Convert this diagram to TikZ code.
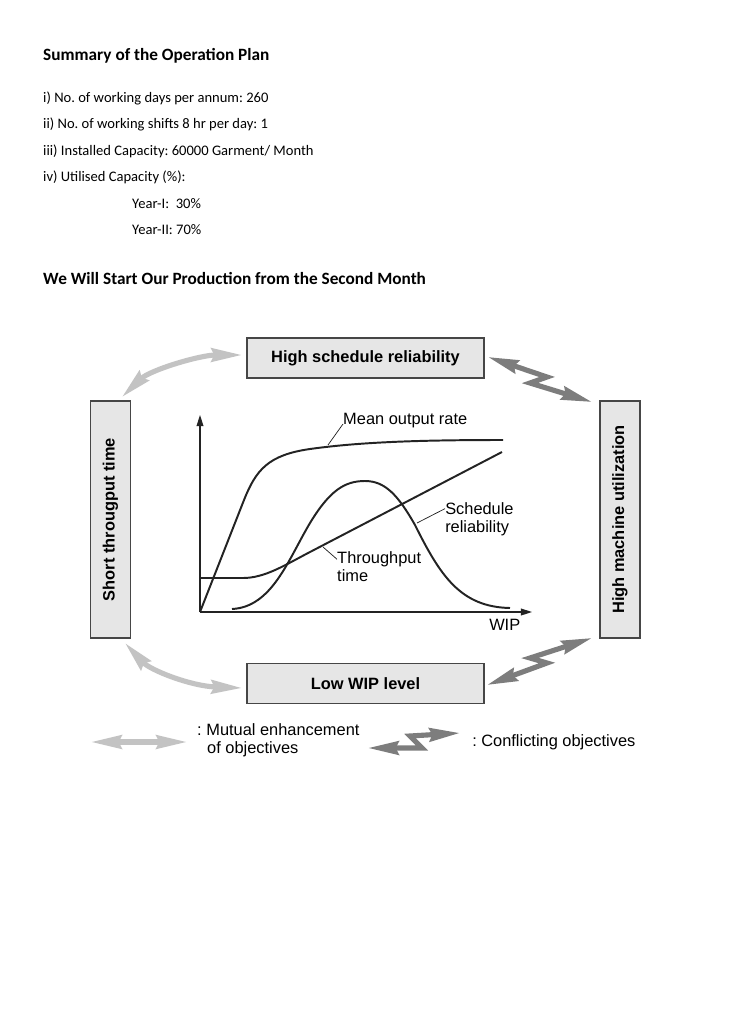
\documentclass[tikz,border=0pt]{standalone}
\usepackage{fontspec}
\setmainfont{Carlito}
\newfontfamily\arialfont{Liberation Sans}
\usetikzlibrary{arrows.meta}
\frenchspacing

\definecolor{boxfill}{RGB}{230,230,230}
\definecolor{boxline}{RGB}{70,70,70}
\definecolor{mutual}{RGB}{195,195,195}
\definecolor{conflict}{RGB}{125,125,125}
\definecolor{curvecol}{RGB}{35,35,35}

\tikzset{
  bodytext/.style={anchor=base west, inner sep=0pt, font=\fontsize{11.9}{14}\selectfont},
  headtext/.style={anchor=base west, inner sep=0pt, font=\bfseries\fontsize{14.1}{17}\selectfont},
  goalbox/.style={draw=boxline, fill=boxfill, line width=1pt, inner sep=0pt,
    minimum width=193.7pt, minimum height=32.7pt,
    font=\arialfont\bfseries\fontsize{13.4}{16}\selectfont},
  lbl/.style={anchor=base west, inner sep=0pt, font=\arialfont\fontsize{13.4}{16}\selectfont},
  enhance/.style={draw=mutual, line width=4.2pt,
    {Stealth[length=25pt,width=11pt,inset=2.5pt]}-{Stealth[length=25pt,width=11pt,inset=2.5pt]}},
  conflicting/.style={draw=conflict, line width=4.2pt, line join=miter,
    {Stealth[length=25pt,width=11pt,inset=2.5pt]}-{Stealth[length=25pt,width=11pt,inset=2.5pt]}},
  axis/.style={draw=curvecol, line width=1.1pt, -{Triangle[length=9pt,width=5.5pt]}},
  plotcurve/.style={draw=curvecol, line width=1.6pt},
  leader/.style={draw=curvecol, line width=0.6pt}
}

\begin{document}
\begin{tikzpicture}[x=0.8173pt,y=0.8173pt,yscale=-1,xscale=1]
\useasboundingbox (0,0) rectangle (728,1030);

% operation plan summary
\node[headtext] (title) at (43,61) {Summary of the Operation Plan};
\node[bodytext] (days) at (43,102) {i) No. of working days per annum: 260};
\node[bodytext] (shifts) at (43,128.5) {ii) No. of working shifts 8 hr per day: 1};
\node[bodytext] (instcap) at (43,155) {iii) Installed Capacity: 60000 Garment/ Month};
\node[bodytext] (utilcap) at (43,181.5) {iv) Utilised Capacity (\%):};
\node[bodytext] (yearone) at (132,208) {Year-I:\ \ 30\%};
\node[bodytext] (yeartwo) at (132,234.5) {Year-II: 70\%};
\node[headtext] (start) at (43,284) {We Will Start Our Production from the Second Month};

% objective boxes
\node[goalbox] (hsr) at (365.5,358) {High schedule reliability};
\node[goalbox] (lwl) at (365.5,683.5) {Low WIP level};
\node[goalbox, rotate=90] (stt) at (110.5,519.5) {Short througput time};
\node[goalbox, rotate=90] (hmu) at (620,519.5) {High machine utilization};

% arrow ends
\coordinate (tlA) at (122,397);
\coordinate (tlB) at (242,355);
\coordinate (blA) at (125,643);
\coordinate (blB) at (242,688);
\coordinate (trA) at (488,357);
\coordinate (trB) at (592,402);
\coordinate (brA) at (487,685);
\coordinate (brB) at (592,638);

\draw[enhance] (tlA) .. controls (150,370) and (200,355) .. (tlB);
\draw[enhance] (blA) .. controls (150,670) and (190,686) .. (blB);
\draw[conflicting] (trA) -- (547,377) -- (530,383) -- (trB);
\draw[conflicting] (brA) -- (547,663) -- (530,658) -- (brB);

% graph
\coordinate (orig) at (200,612);
\draw[axis] (orig) -- (200,415);
\draw[axis] (orig) -- (532,612);
\node[lbl] (wip) at (489,630) {WIP};

\draw[plotcurve] (orig) -- (244,500) .. controls (256,470) and (268,455) .. (310,449)
  .. controls (360,442) and (420,440) .. (503,440);
\draw[plotcurve] (200,578) -- (243,578) .. controls (265,578) and (285,565) .. (310,552) -- (502,452);
\draw[plotcurve] (232,609) .. controls (272,607) and (288,560) .. (310,523)
  .. controls (330,490) and (345,481) .. (365,481)
  .. controls (385,481) and (398,495) .. (415,525)
  .. controls (440,575) and (460,607) .. (510,608);

\node[lbl] (mor) at (343,424) {Mean output rate};
\node[lbl] (sched) at (445,514.5) {Schedule};
\node[lbl] (rel) at (445,532.5) {reliability};
\node[lbl] (thru) at (337,563.5) {Throughput};
\node[lbl] (ttime) at (337,581) {time};
\draw[leader] (328,445) -- (mor.base west);
\draw[leader] (417,523) -- (sched.west);
\draw[leader] (323,547) -- (thru.west);

% legend
\coordinate (lgA) at (91,742);
\coordinate (lgB) at (187,742);
\coordinate (lgC) at (368,748);
\coordinate (lgD) at (460,733);
\draw[enhance] (lgA) -- (lgB);
\draw[conflicting] (lgC) -- (422,748) -- (410,736) -- (lgD);
\node[lbl] (mut) at (197,735) {: Mutual enhancement};
\node[lbl] (mut2) at (207,753) {of objectives};
\node[lbl] (conf) at (472,746) {: Conflicting objectives};
\end{tikzpicture}
\end{document}
